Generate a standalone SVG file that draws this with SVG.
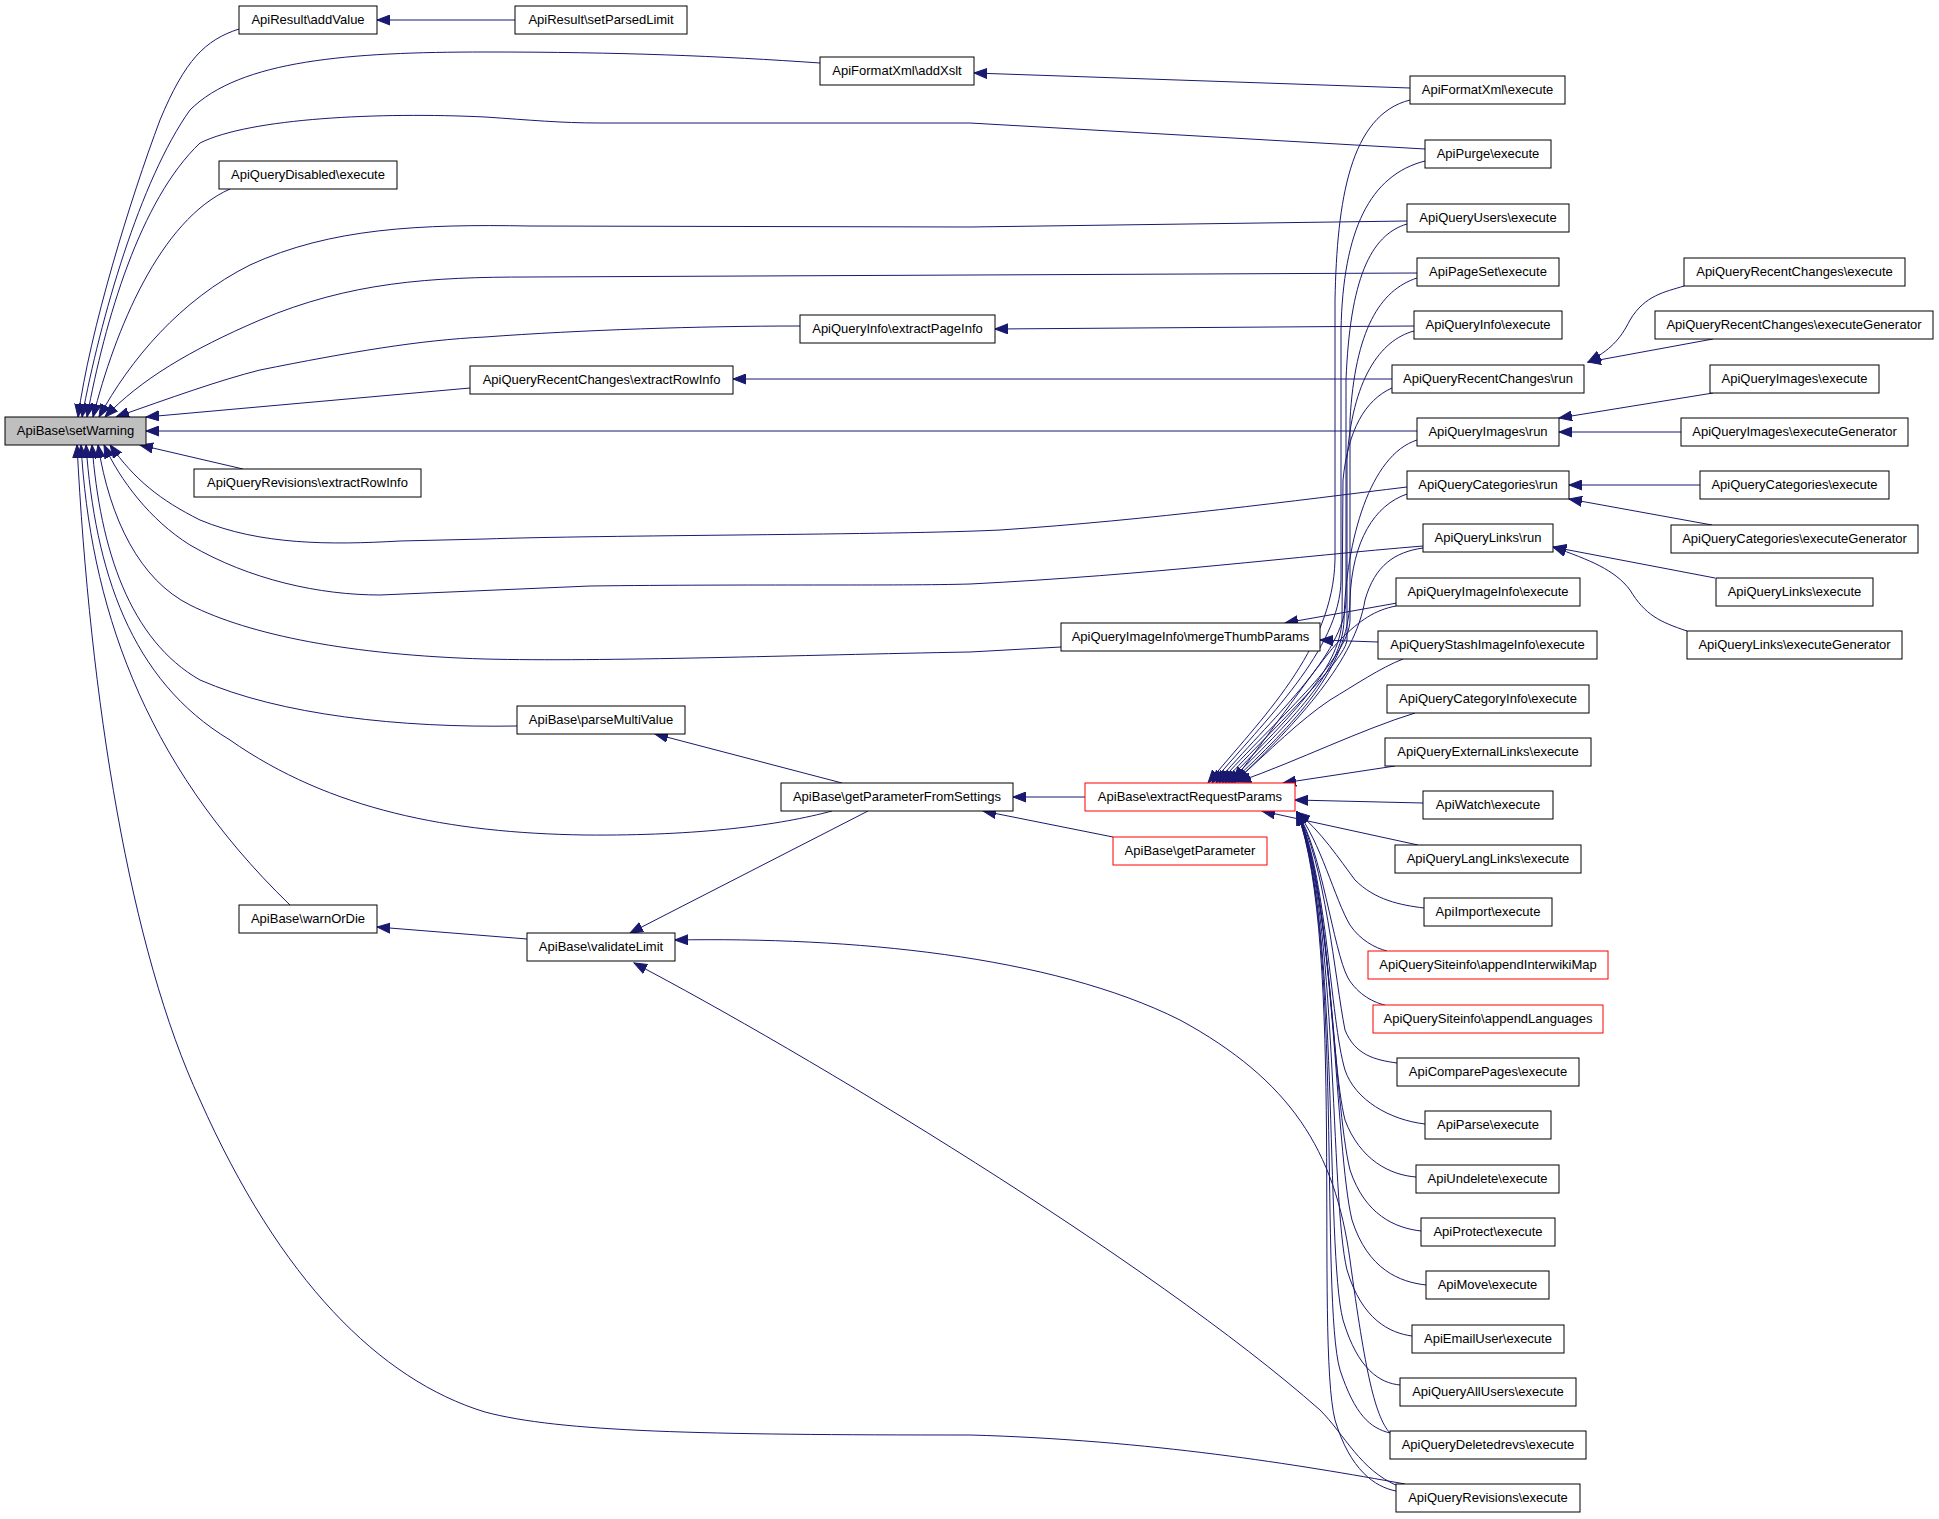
<svg xmlns="http://www.w3.org/2000/svg" width="1939" height="1519" viewBox="0 0 1939 1519">
<style>
.n rect{fill:#fff;stroke:#000;stroke-width:1}
.n.r rect{stroke:#ff0000}
.n.g rect{fill:#bfbfbf}
.n text{font-family:"Liberation Sans",Arial,sans-serif;font-size:13px;text-anchor:middle;fill:#000}
.e path{fill:none;stroke:#191970;stroke-width:1;marker-start:url(#a)}
</style>
<defs>
<marker id="a" markerWidth="14" markerHeight="11" refX="13" refY="5.5" orient="auto-start-reverse" markerUnits="userSpaceOnUse">
<path d="M0,0.5 L13,5.5 L0,10.5 z" fill="#191970" stroke="#191970" stroke-width="1"/>
</marker>
</defs>
<rect x="0" y="0" width="1939" height="1519" fill="#fff"/>
<g id="edges" class="e">
<path d="M78,417 C90,330 130,200 160,120 C185,60 205,40 239,29"/>
<path d="M377,20 L515,20"/>
<path d="M82,417 C100,320 140,180 190,110 C240,60 350,52 485,52 C620,52 720,56 820,63"/>
<path d="M974,73 L1410,88"/>
<path d="M87,417 C105,320 140,200 200,143 C250,118 380,112 485,117 C530,120 560,123 600,123 L970,123 L1425,149"/>
<path d="M93,417 C115,330 160,220 230,189"/>
<path d="M99,417 C130,360 180,300 250,265 C330,228 420,224 530,226 L970,227 L1407,221"/>
<path d="M105,417 C140,380 190,350 260,320 C350,282 430,277 530,277 L1417,273"/>
<path d="M116,417 C170,398 220,380 260,370 C350,352 420,340 485,337 C580,330 700,326 800,326"/>
<path d="M995,329 L1414,326"/>
<path d="M146,417 L470,388"/>
<path d="M733,379 L1392,379"/>
<path d="M146,431 L1417,431"/>
<path d="M140,445 L243,469"/>
<path d="M110,445 C135,480 160,500 200,520 C260,545 330,545 400,541 L485,539 C600,535 900,535 1000,530 C1150,520 1300,500 1407,487"/>
<path d="M104,445 C120,480 150,520 190,545 C250,580 320,595 380,595 L590,586 C750,584 900,586 970,584 C1150,575 1300,556 1423,546"/>
<path d="M98,445 C110,520 140,580 190,605 C250,635 350,655 485,659 C600,662 800,655 970,652 L1061,647"/>
<path d="M92,445 C100,550 130,640 200,680 C280,715 400,728 517,726"/>
<path d="M86,445 C95,570 130,680 230,740 C330,810 450,833 585,835 C700,836 780,825 832,811"/>
<path d="M81,445 C90,600 140,760 290,905"/>
<path d="M77,445 C90,700 130,950 200,1100 C280,1280 380,1380 485,1412 C560,1432 700,1435 970,1435 C1150,1440 1300,1465 1405,1484"/>
<path d="M655,734 L842,783"/>
<path d="M377,927 L527,939"/>
<path d="M630,933 L868,811"/>
<path d="M1013,797 L1085,797"/>
<path d="M983,811 L1113,837"/>
<path d="M675,940 C850,937 1050,955 1180,1020 C1290,1080 1335,1150 1350,1260 C1365,1370 1375,1420 1392,1435"/>
<path d="M634,963 C800,1050 1150,1260 1320,1410 C1345,1435 1360,1470 1398,1486"/>
<path d="M1285,623 L1397,603"/>
<path d="M1320,640 L1378,642"/>
<path d="M1588,362 C1610,350 1620,340 1630,320 C1645,295 1665,292 1684,286"/>
<path d="M1588,362 L1713,339"/>
<path d="M1559,418 L1713,393"/>
<path d="M1559,432 L1681,432"/>
<path d="M1569,485 L1700,485"/>
<path d="M1569,499 L1712,525"/>
<path d="M1553,547 L1715,578"/>
<path d="M1553,547 C1590,560 1615,570 1630,590 C1645,615 1660,622 1687,631"/>
<path d="M1208,783 C1260,720 1333,650 1335,560 L1335,300 C1337,200 1350,115 1410,100"/>
<path d="M1212,783 C1265,720 1340,650 1341,580 L1341,330 C1343,230 1370,175 1425,161"/>
<path d="M1216,783 C1270,720 1345,655 1346,600 L1346,380 C1350,280 1370,235 1407,224"/>
<path d="M1219,783 C1275,720 1349,660 1350,620 L1350,420 C1355,330 1380,290 1417,278"/>
<path d="M1222,783 C1280,722 1345,660 1347,640 L1347,460 C1352,380 1380,340 1414,331"/>
<path d="M1225,783 C1285,722 1340,670 1342,620 L1343,480 C1348,430 1365,400 1392,388"/>
<path d="M1228,783 C1290,722 1343,670 1344,620 C1346,540 1370,455 1417,440"/>
<path d="M1231,783 C1295,722 1348,670 1350,600 C1352,540 1375,505 1407,494"/>
<path d="M1234,783 C1300,720 1355,660 1365,600 C1375,565 1395,552 1423,548"/>
<path d="M1234,780 C1280,720 1323,657 1340,640 C1360,620 1375,610 1396,606"/>
<path d="M1236,781 C1270,750 1300,720 1330,700 C1355,685 1380,668 1403,659"/>
<path d="M1238,782 C1300,760 1360,730 1415,713"/>
<path d="M1283,783 L1395,766"/>
<path d="M1295,800 L1423,803"/>
<path d="M1262,811 L1418,845"/>
<path d="M1297,812 C1320,830 1340,860 1355,880 C1375,900 1400,905 1424,908"/>
<path d="M1297,812 C1320,840 1335,900 1350,925 C1360,940 1375,948 1387,951"/>
<path d="M1297,812 C1322,850 1333,950 1348,978 C1358,995 1375,1003 1385,1005"/>
<path d="M1297,812 C1325,860 1335,980 1345,1030 C1355,1055 1375,1060 1397,1063"/>
<path d="M1297,812 C1327,870 1330,1020 1345,1070 C1355,1100 1390,1120 1425,1124"/>
<path d="M1297,812 C1330,880 1330,1060 1345,1120 C1360,1160 1390,1175 1416,1177"/>
<path d="M1297,812 C1332,890 1333,1100 1350,1170 C1365,1215 1395,1228 1421,1231"/>
<path d="M1297,812 C1335,900 1335,1150 1352,1220 C1368,1270 1400,1282 1426,1285"/>
<path d="M1297,812 C1338,910 1330,1200 1347,1270 C1362,1320 1390,1333 1412,1336"/>
<path d="M1297,812 C1340,920 1325,1250 1343,1320 C1358,1370 1380,1383 1400,1385"/>
<path d="M1297,812 C1343,930 1320,1300 1340,1370 C1355,1415 1370,1428 1390,1433"/>
<path d="M1297,812 C1345,940 1315,1340 1335,1420 C1350,1470 1375,1487 1396,1491"/>
</g>
<g id="n_setWarning" class="n g"><rect x="5" y="417" width="141" height="28"/><text x="75.5" y="435">ApiBase\setWarning</text></g>
<g id="n_addValue" class="n"><rect x="239" y="6" width="138" height="28"/><text x="308" y="24">ApiResult\addValue</text></g>
<g id="n_setParsedLimit" class="n"><rect x="515" y="6" width="172" height="28"/><text x="601" y="24">ApiResult\setParsedLimit</text></g>
<g id="n_addXslt" class="n"><rect x="820" y="57" width="154" height="28"/><text x="897" y="75">ApiFormatXml\addXslt</text></g>
<g id="n_FormatXml_execute" class="n"><rect x="1410" y="76" width="155" height="28"/><text x="1487.5" y="94">ApiFormatXml\execute</text></g>
<g id="n_Purge_execute" class="n"><rect x="1425" y="140" width="126" height="28"/><text x="1488" y="158">ApiPurge\execute</text></g>
<g id="n_QueryDisabled_execute" class="n"><rect x="219" y="161" width="178" height="28"/><text x="308" y="179">ApiQueryDisabled\execute</text></g>
<g id="n_QueryUsers_execute" class="n"><rect x="1407" y="204" width="162" height="28"/><text x="1488" y="222">ApiQueryUsers\execute</text></g>
<g id="n_PageSet_execute" class="n"><rect x="1417" y="258" width="142" height="28"/><text x="1488" y="276">ApiPageSet\execute</text></g>
<g id="n_extractPageInfo" class="n"><rect x="800" y="315" width="195" height="28"/><text x="897.5" y="333">ApiQueryInfo\extractPageInfo</text></g>
<g id="n_QueryInfo_execute" class="n"><rect x="1414" y="311" width="148" height="28"/><text x="1488" y="329">ApiQueryInfo\execute</text></g>
<g id="n_RC_extractRowInfo" class="n"><rect x="470" y="366" width="263" height="28"/><text x="601.5" y="384">ApiQueryRecentChanges\extractRowInfo</text></g>
<g id="n_RC_run" class="n"><rect x="1392" y="365" width="192" height="28"/><text x="1488" y="383">ApiQueryRecentChanges\run</text></g>
<g id="n_RC_execute" class="n"><rect x="1684" y="258" width="221" height="28"/><text x="1794.5" y="276">ApiQueryRecentChanges\execute</text></g>
<g id="n_RC_executeGenerator" class="n"><rect x="1655" y="311" width="278" height="28"/><text x="1794" y="329">ApiQueryRecentChanges\executeGenerator</text></g>
<g id="n_Images_run" class="n"><rect x="1417" y="418" width="142" height="28"/><text x="1488" y="436">ApiQueryImages\run</text></g>
<g id="n_Images_execute" class="n"><rect x="1710" y="365" width="169" height="28"/><text x="1794.5" y="383">ApiQueryImages\execute</text></g>
<g id="n_Images_executeGenerator" class="n"><rect x="1681" y="418" width="227" height="28"/><text x="1794.5" y="436">ApiQueryImages\executeGenerator</text></g>
<g id="n_Revisions_extractRowInfo" class="n"><rect x="194" y="469" width="227" height="28"/><text x="307.5" y="487">ApiQueryRevisions\extractRowInfo</text></g>
<g id="n_Categories_run" class="n"><rect x="1407" y="471" width="162" height="28"/><text x="1488" y="489">ApiQueryCategories\run</text></g>
<g id="n_Categories_execute" class="n"><rect x="1700" y="471" width="189" height="28"/><text x="1794.5" y="489">ApiQueryCategories\execute</text></g>
<g id="n_Categories_executeGenerator" class="n"><rect x="1671" y="525" width="247" height="28"/><text x="1794.5" y="543">ApiQueryCategories\executeGenerator</text></g>
<g id="n_Links_run" class="n"><rect x="1423" y="524" width="130" height="28"/><text x="1488" y="542">ApiQueryLinks\run</text></g>
<g id="n_Links_execute" class="n"><rect x="1716" y="578" width="157" height="28"/><text x="1794.5" y="596">ApiQueryLinks\execute</text></g>
<g id="n_Links_executeGenerator" class="n"><rect x="1687" y="631" width="215" height="28"/><text x="1794.5" y="649">ApiQueryLinks\executeGenerator</text></g>
<g id="n_ImageInfo_execute" class="n"><rect x="1396" y="578" width="184" height="28"/><text x="1488" y="596">ApiQueryImageInfo\execute</text></g>
<g id="n_StashImageInfo_execute" class="n"><rect x="1378" y="631" width="219" height="28"/><text x="1487.5" y="649">ApiQueryStashImageInfo\execute</text></g>
<g id="n_mergeThumbParams" class="n"><rect x="1061" y="623" width="259" height="28"/><text x="1190.5" y="641">ApiQueryImageInfo\mergeThumbParams</text></g>
<g id="n_CategoryInfo_execute" class="n"><rect x="1387" y="685" width="202" height="28"/><text x="1488" y="703">ApiQueryCategoryInfo\execute</text></g>
<g id="n_ExternalLinks_execute" class="n"><rect x="1385" y="738" width="206" height="28"/><text x="1488" y="756">ApiQueryExternalLinks\execute</text></g>
<g id="n_parseMultiValue" class="n"><rect x="517" y="706" width="168" height="28"/><text x="601" y="724">ApiBase\parseMultiValue</text></g>
<g id="n_getParameterFromSettings" class="n"><rect x="781" y="783" width="232" height="28"/><text x="897" y="801">ApiBase\getParameterFromSettings</text></g>
<g id="n_extractRequestParams" class="n r"><rect x="1085" y="783" width="210" height="28"/><text x="1190" y="801">ApiBase\extractRequestParams</text></g>
<g id="n_Watch_execute" class="n"><rect x="1423" y="791" width="130" height="28"/><text x="1488" y="809">ApiWatch\execute</text></g>
<g id="n_LangLinks_execute" class="n"><rect x="1395" y="845" width="186" height="28"/><text x="1488" y="863">ApiQueryLangLinks\execute</text></g>
<g id="n_getParameter" class="n r"><rect x="1113" y="837" width="154" height="28"/><text x="1190" y="855">ApiBase\getParameter</text></g>
<g id="n_Import_execute" class="n"><rect x="1424" y="898" width="128" height="28"/><text x="1488" y="916">ApiImport\execute</text></g>
<g id="n_warnOrDie" class="n"><rect x="239" y="905" width="138" height="28"/><text x="308" y="923">ApiBase\warnOrDie</text></g>
<g id="n_validateLimit" class="n"><rect x="527" y="933" width="148" height="28"/><text x="601" y="951">ApiBase\validateLimit</text></g>
<g id="n_appendInterwikiMap" class="n r"><rect x="1368" y="951" width="240" height="28"/><text x="1488" y="969">ApiQuerySiteinfo\appendInterwikiMap</text></g>
<g id="n_appendLanguages" class="n r"><rect x="1373" y="1005" width="230" height="28"/><text x="1488" y="1023">ApiQuerySiteinfo\appendLanguages</text></g>
<g id="n_ComparePages_execute" class="n"><rect x="1397" y="1058" width="182" height="28"/><text x="1488" y="1076">ApiComparePages\execute</text></g>
<g id="n_Parse_execute" class="n"><rect x="1425" y="1111" width="126" height="28"/><text x="1488" y="1129">ApiParse\execute</text></g>
<g id="n_Undelete_execute" class="n"><rect x="1416" y="1165" width="143" height="28"/><text x="1487.5" y="1183">ApiUndelete\execute</text></g>
<g id="n_Protect_execute" class="n"><rect x="1421" y="1218" width="134" height="28"/><text x="1488" y="1236">ApiProtect\execute</text></g>
<g id="n_Move_execute" class="n"><rect x="1426" y="1271" width="123" height="28"/><text x="1487.5" y="1289">ApiMove\execute</text></g>
<g id="n_EmailUser_execute" class="n"><rect x="1412" y="1325" width="152" height="28"/><text x="1488" y="1343">ApiEmailUser\execute</text></g>
<g id="n_AllUsers_execute" class="n"><rect x="1400" y="1378" width="176" height="28"/><text x="1488" y="1396">ApiQueryAllUsers\execute</text></g>
<g id="n_Deletedrevs_execute" class="n"><rect x="1390" y="1431" width="196" height="28"/><text x="1488" y="1449">ApiQueryDeletedrevs\execute</text></g>
<g id="n_Revisions_execute" class="n"><rect x="1396" y="1484" width="184" height="28"/><text x="1488" y="1502">ApiQueryRevisions\execute</text></g>
</svg>
